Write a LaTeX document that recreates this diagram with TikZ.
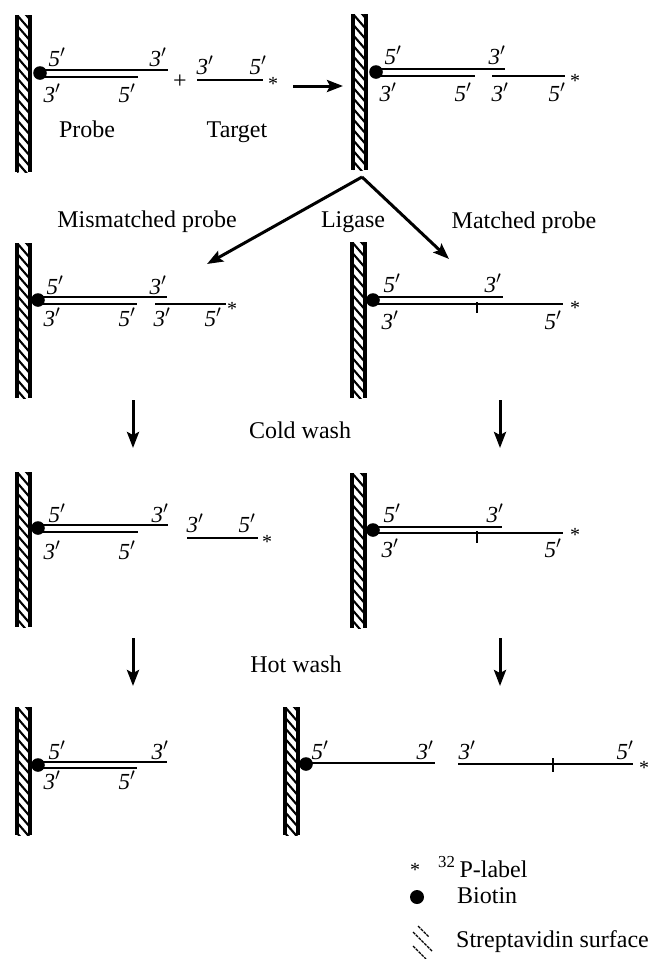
\documentclass[tikz,border=0pt]{standalone}
\usepackage{fontspec}
\setmainfont{Liberation Serif}
\usetikzlibrary{arrows.meta}

\tikzset{
  hatch/.style={line width=2.1pt},
  wallside/.style={line width=3.2pt},
  strand/.style={line width=2.8pt},
  nick/.style={line width=2.4pt},
  arr/.style={line width=3pt, -{Stealth[length=16pt,width=12pt,inset=3pt]}},
  txt/.style={font=\fontsize{24}{28}\selectfont, anchor=base, inner sep=0pt},
  prm/.style={font=\fontsize{23}{27}\selectfont\itshape, inner sep=0pt},
  star/.style={font=\fontsize{20}{22}\selectfont, inner sep=0pt},
  biotin/.style={fill=black},
}

% streptavidin surface: #1 left x, #2 top y, #3 bottom y
\newcommand\surfwall[3]{%
  \begin{scope}
    \clip (#1,#2) rectangle (#1+13,#3);
    \foreach \k in {-2,...,16} { \draw[hatch] (#1,#2+\k*10.5) -- ++(13,15); }
  \end{scope}
  \draw[wallside] (#1,#2) -- (#1,#3) (#1+13,#2) -- (#1+13,#3);
}

\begin{document}
\begin{tikzpicture}[x=1pt,y=-1pt]
\useasboundingbox (0,0) rectangle (650,959);

% ---------- row 1: probe + target ----------
\surfwall{17}{15}{172}
\fill[biotin] (40,73) circle[radius=6.8pt];
\draw[strand] (40,70) -- (168,70);
\draw[strand] (40,77) -- (138,77);
\node[prm] (a1) at (57,57) {5$'$};
\node[prm] (a2) at (158,57) {3$'$};
\node[prm] (a3) at (52,93) {3$'$};
\node[prm] (a4) at (127,93) {5$'$};
\node[txt] (plus) at (180,88) {+};
\draw[strand] (197,80) -- (263,80);
\node[prm] (a5) at (205,65) {3$'$};
\node[prm] (a6) at (258,65) {5$'$};
\node[star] (s1) at (273,84) {*};
\node[txt] (probe) at (87,137) {Probe};
\node[txt] (target) at (237,137) {Target};
\coordinate (r1a) at (293,86);
\coordinate (r1b) at (343,86);
\draw[arr] (r1a) -- (r1b);

\surfwall{353}{14}{170}
\fill[biotin] (376,72) circle[radius=6.8pt];
\draw[strand] (376,69) -- (505,69);
\draw[strand] (376,76) -- (475,76);
\draw[strand] (492,76) -- (565,76);
\node[prm] (b1) at (393,55) {5$'$};
\node[prm] (b2) at (497,55) {3$'$};
\node[prm] (b3) at (388,92) {3$'$};
\node[prm] (b4) at (463,92) {5$'$};
\node[prm] (b5) at (500,92) {3$'$};
\node[prm] (b6) at (557,92) {5$'$};
\node[star] (s2) at (575,81) {*};

% ---------- ligase branch ----------
\coordinate (apex) at (362,177);
\coordinate (lmis) at (207,264);
\coordinate (lmat) at (449,259);
\draw[arr] (apex) -- (lmis);
\draw[arr] (apex) -- (lmat);
\node[txt] (mism) at (147,227) {Mismatched probe};
\node[txt] (lig) at (353,227) {Ligase};
\node[txt] (mat) at (524,228) {Matched probe};

% ---------- row 2 ----------
\surfwall{17}{243}{398}
\fill[biotin] (38,300) circle[radius=6.8pt];
\draw[strand] (38,297) -- (167,297);
\draw[strand] (38,304) -- (137,304);
\draw[strand] (155,304) -- (226,304);
\node[prm] (c1) at (55,285) {5$'$};
\node[prm] (c2) at (158,285) {3$'$};
\node[prm] (c3) at (52,317) {3$'$};
\node[prm] (c4) at (127,317) {5$'$};
\node[prm] (c5) at (162,317) {3$'$};
\node[prm] (c6) at (213,317) {5$'$};
\node[star] (s3) at (232,309) {*};

\surfwall{352}{242}{398}
\fill[biotin] (373,300) circle[radius=6.8pt];
\draw[strand] (373,297) -- (503,297);
\draw[strand] (373,304) -- (563,304);
\draw[nick] (477,302) -- (477,313);
\node[prm] (d1) at (392,283) {5$'$};
\node[prm] (d2) at (493,283) {3$'$};
\node[prm] (d3) at (390,320) {3$'$};
\node[prm] (d4) at (553,320) {5$'$};
\node[star] (s4) at (575,308) {*};

% ---------- cold wash ----------
\coordinate (cw1a) at (133,400);
\coordinate (cw1b) at (133,448);
\coordinate (cw2a) at (500,400);
\coordinate (cw2b) at (500,448);
\draw[arr] (cw1a) -- (cw1b);
\draw[arr] (cw2a) -- (cw2b);
\node[txt] (cold) at (300,438) {Cold wash};

% ---------- row 3 ----------
\surfwall{17}{472}{627}
\fill[biotin] (38,528) circle[radius=6.8pt];
\draw[strand] (38,525) -- (168,525);
\draw[strand] (38,532) -- (138,532);
\draw[strand] (187,538) -- (258,538);
\node[prm] (e1) at (57,513) {5$'$};
\node[prm] (e2) at (160,513) {3$'$};
\node[prm] (e3) at (52,550) {3$'$};
\node[prm] (e4) at (127,550) {5$'$};
\node[prm] (e5) at (195,523) {3$'$};
\node[prm] (e6) at (247,523) {5$'$};
\node[star] (s5) at (267,542) {*};

\surfwall{352}{473}{628}
\fill[biotin] (373,530) circle[radius=6.8pt];
\draw[strand] (373,527) -- (502,527);
\draw[strand] (373,533) -- (563,533);
\draw[nick] (477,531) -- (477,543);
\node[prm] (f1) at (392,513) {5$'$};
\node[prm] (f2) at (495,513) {3$'$};
\node[prm] (f3) at (390,548) {3$'$};
\node[prm] (f4) at (553,548) {5$'$};
\node[star] (s6) at (575,535) {*};

% ---------- hot wash ----------
\coordinate (hw1a) at (133,638);
\coordinate (hw1b) at (133,686);
\coordinate (hw2a) at (500,638);
\coordinate (hw2b) at (500,686);
\draw[arr] (hw1a) -- (hw1b);
\draw[arr] (hw2a) -- (hw2b);
\node[txt] (hot) at (296,672) {Hot wash};

% ---------- row 4 ----------
\surfwall{17}{707}{835}
\fill[biotin] (38,765) circle[radius=6.8pt];
\draw[strand] (38,762) -- (167,762);
\draw[strand] (38,768) -- (137,768);
\node[prm] (g1) at (57,750) {5$'$};
\node[prm] (g2) at (160,750) {3$'$};
\node[prm] (g3) at (52,780) {3$'$};
\node[prm] (g4) at (127,780) {5$'$};

\surfwall{285}{707}{835}
\fill[biotin] (306,764) circle[radius=6.8pt];
\draw[strand] (306,763) -- (435,763);
\draw[strand] (458,764) -- (633,764);
\draw[nick] (553,758) -- (553,772);
\node[prm] (h1) at (320,750) {5$'$};
\node[prm] (h2) at (425,750) {3$'$};
\node[prm] (h3) at (467,750) {3$'$};
\node[prm] (h4) at (625,750) {5$'$};
\node[star] (s7) at (644,768) {*};

% ---------- key ----------
\node[star] (k1) at (415,870) {*};
\node[txt, anchor=base west] (k1t) at (438,877) {\textsuperscript{32}\,P-label};
\fill[biotin] (417,897) circle[radius=7pt];
\node[txt, anchor=base west] (k2t) at (457,903) {Biotin};
\draw[line width=1.4pt, dash pattern=on 3pt off 1pt] (418,926) -- (429,937);
\draw[line width=1.4pt, dash pattern=on 3pt off 1pt] (413,932) -- (432,951);
\draw[line width=1.4pt, dash pattern=on 3pt off 1pt] (413,946) -- (426,959);
\node[txt, anchor=base west] (k3t) at (456,947) {Streptavidin surface};
\end{tikzpicture}
\end{document}
